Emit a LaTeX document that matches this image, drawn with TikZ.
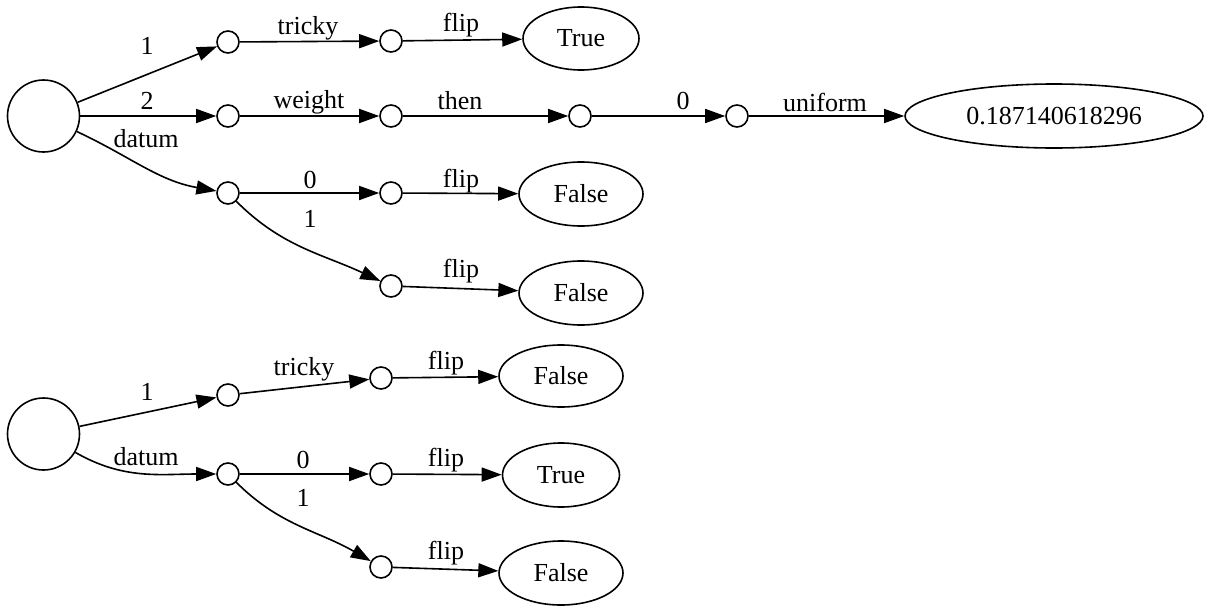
\documentclass[tikz,border=0pt]{standalone}
\usepackage{fontspec}
\setmainfont{Liberation Serif}
\usetikzlibrary{arrows.meta,shapes.geometric}
\begin{document}
\begin{tikzpicture}[x=0.5pt,y=-0.5pt,
  font=\fontsize{13}{15}\selectfont,
  root/.style={circle,draw,line width=0.8pt,minimum size=36pt,inner sep=0pt},
  dot/.style={circle,draw,line width=0.8pt,minimum size=11pt,inner sep=0pt},
  leaf/.style={ellipse,draw,line width=0.8pt,inner sep=0pt,minimum height=31.5pt},
  lbl/.style={inner sep=0pt},
  edge/.style={draw,line width=0.8pt,-{Triangle[length=10pt,width=7pt]}}]
\useasboundingbox (0,0) rectangle (1209,605);
% ---------- top tree ----------
\node[root] (A) at (43.5,116) {};
\node[dot] (n1) at (228,42) {};
\node[dot] (n2) at (228,116) {};
\node[dot] (n3) at (228,193) {};
\node[dot] (t1) at (391,41) {};
\node[dot] (t2) at (391,116) {};
\node[dot] (t3) at (391,193) {};
\node[dot] (t4) at (391,286) {};
\node[leaf,minimum width=58pt] (T1) at (581,38.5) {True};
\node[dot] (w2) at (580,116) {};
\node[dot] (w3) at (737,116) {};
\node[leaf,minimum width=149pt,minimum height=32pt] (U) at (1054,116) {0.187140618296};
\node[leaf,minimum width=62pt,minimum height=32pt] (F3) at (581,194) {False};
\node[leaf,minimum width=62pt,minimum height=32pt] (F4) at (581,293) {False};

\draw[edge] (A) -- (n1);
\draw[edge] (A) -- (n2);
\draw[edge] (A) to[out=-25,in=170] (n3);
\draw[edge] (n1) -- (t1);
\draw[edge] (n2) -- (t2);
\draw[edge] (n3) -- (t3);
\draw[edge] (n3) to[out=-45,in=155] (t4);
\draw[edge] (t1) -- (T1);
\draw[edge] (t2) -- (w2);
\draw[edge] (w2) -- (w3);
\draw[edge] (w3) -- (U);
\draw[edge] (t3) -- (F3);
\draw[edge] (t4) -- (F4);

\node[lbl] (l1) at (147,46) {1};
\node[lbl] (l2) at (147,101) {2};
\node[lbl] (l3) at (146,139) {datum};
\node[lbl] (l4) at (308,28) {tricky};
\node[lbl] (l5) at (309,102) {weight};
\node[lbl] (l6) at (310,180) {0};
\node[lbl] (l7) at (310,219) {1};
\node[lbl] (l8) at (461,25) {flip};
\node[lbl] (l9) at (460,101) {then};
\node[lbl] (l10) at (683,101) {0};
\node[lbl] (l11) at (825,102) {uniform};
\node[lbl] (l12) at (461,181) {flip};
\node[lbl] (l13) at (461,271) {flip};

% ---------- bottom tree ----------
\node[root] (B) at (43.5,434) {};
\node[dot] (m1) at (228,395) {};
\node[dot] (m2) at (228,474) {};
\node[dot] (s1) at (381,378) {};
\node[dot] (s2) at (381,474) {};
\node[dot] (s3) at (381,567) {};
\node[leaf,minimum width=62pt,minimum height=31pt] (BF1) at (561,376) {False};
\node[leaf,minimum width=58.5pt,minimum height=32pt] (BT) at (561,475) {True};
\node[leaf,minimum width=62pt,minimum height=32pt] (BF2) at (561,573) {False};

\draw[edge] (B) -- (m1);
\draw[edge] (B) to[out=-30,in=180] (m2);
\draw[edge] (m1) -- (s1);
\draw[edge] (m2) -- (s2);
\draw[edge] (m2) to[out=-45,in=150] (s3);
\draw[edge] (s1) -- (BF1);
\draw[edge] (s2) -- (BT);
\draw[edge] (s3) -- (BF2);

\node[lbl] (k1) at (147,392) {1};
\node[lbl] (k2) at (304,369) {tricky};
\node[lbl] (k3) at (146,457) {datum};
\node[lbl] (k4) at (303,460) {0};
\node[lbl] (k5) at (303,498) {1};
\node[lbl] (k6) at (446,363) {flip};
\node[lbl] (k7) at (446,460) {flip};
\node[lbl] (k8) at (446,553) {flip};
\end{tikzpicture}
\end{document}
